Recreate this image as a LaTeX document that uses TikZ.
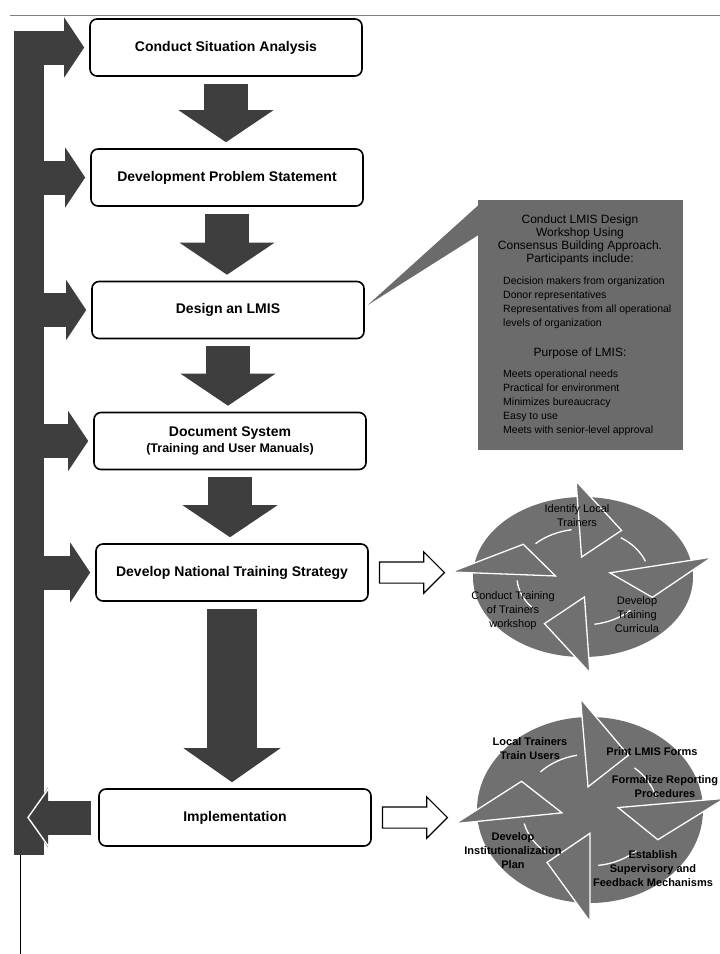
\documentclass[tikz,border=0pt]{standalone}
\usepackage{fontspec}
\setmainfont{Liberation Sans}
\usetikzlibrary{positioning, arrows.meta, shapes.arrows, calc}

\definecolor{arrowgray}{HTML}{3E3E3E}
\definecolor{boxgray}{HTML}{6B6B6B}
\definecolor{ringgray}{HTML}{707070}

% ring of four arrows, drawn in a unit circle; #1 = angles of the arrow heads
\newcommand{\cyclering}[1]{%
    \fill[ringgray] (0,0) circle[radius=1];
    \foreach \h in {#1} {
        \filldraw[ringgray, draw=white, line width=1.3pt]
            (\h:1.2) -- (\h-34:0.68) -- (\h:0.25) -- cycle;
        \draw[white, line width=1.3pt]
            (\h+43:0.6) arc[start angle=\h+43, end angle=\h+7, radius=0.6];
    }%
}

\begin{document}
\begin{tikzpicture}[
            x=1pt, y=-1pt,
            stepbox/.style={
                draw,
                line width=1.6pt,
                rounded corners=7pt,
                fill=white,
                minimum width=272pt,
                minimum height=57pt,
                align=center,
                font=\fontsize{14}{16}\selectfont\bfseries
            },
            downarrow/.style={
                arrowgray,
                line width=44pt,
                -{Triangle[length=32pt 0 0, width=95pt 0 0, line width=0pt 0 0]},
                shorten <=7pt,
                shorten >=6pt
            },
            feedarrow/.style={
                arrowgray,
                line width=34pt,
                -{Triangle[length=20pt 0 0, width=60pt 0 0, line width=0pt 0 0]}
            },
            outarrow/.style={
                single arrow,
                draw,
                line width=1.2pt,
                fill=white,
                minimum height=65pt,
                inner xsep=0pt,
                inner ysep=10pt,
                single arrow head extend=10pt
            },
            callout/.style={
                fill=boxgray,
                minimum width=205pt,
                minimum height=250pt,
                inner sep=0pt
            },
            headtext/.style={
                align=center,
                font=\fontsize{12}{13}\selectfont
            },
            listtext/.style={
                align=left,
                inner sep=0pt,
                font=\fontsize{10.5}{13.8}\selectfont
            },
            ringlabel/.style={
                align=center,
                inner sep=0pt,
                font=\fontsize{11}{14}\selectfont
            },
            boldlabel/.style={
                ringlabel,
                font=\fontsize{11}{14}\selectfont\bfseries
            }
        ]

            \useasboundingbox (0,0) rectangle (720,954);

            % page edges of the scan
            \draw[gray, line width=1pt] (10,15) -- (720,15);
            \draw[line width=1pt] (20,855) -- (20,954);

            % main steps
            \node[stepbox] (b1) at (226, 47.5) {Conduct Situation Analysis};
            \node[stepbox] (b2) at (227, 177.5) {Development Problem Statement};
            \node[stepbox] (b3) at (228, 310) {Design an LMIS};
            \node[stepbox] (b4) at (230, 441) {Document System\\
                {\fontsize{12.5}{15}\selectfont (Training and User Manuals)}};
            \node[stepbox] (b5) at (232, 572.5) {Develop National Training Strategy};
            \node[stepbox] (b6) at (235, 817.5) {Implementation};

            \draw[downarrow] (b1.south) -- (b1.south |- b2.north);
            \draw[downarrow] (b2.south) -- (b2.south |- b3.north);
            \draw[downarrow] (b3.south) -- (b3.south |- b4.north);
            \draw[downarrow] (b4.south) -- (b4.south |- b5.north);
            \draw[downarrow, line width=50pt,
                -{Triangle[length=34pt 0 0, width=97pt 0 0, line width=0pt 0 0]}]
                (b5.south) -- (b5.south |- b6.north);

            % feedback bar
            \coordinate (bartop) at (29, 31);
            \coordinate (barbot) at (29, 855);
            \draw[arrowgray, line width=30pt] (bartop) -- (barbot);

            \draw[feedarrow, shorten >=5pt] (bartop |- b1.west) -- (b1.west);
            \draw[feedarrow, shorten >=5pt] (bartop |- b2.west) -- (b2.west);
            \draw[feedarrow, shorten >=5pt] (bartop |- b3.west) -- (b3.west);
            \draw[feedarrow, shorten >=5pt] (bartop |- b4.west) -- (b4.west);
            \draw[feedarrow, shorten >=5pt] (bartop |- b5.west) -- (b5.west);

            \coordinate (backtip) at (28, 817.5);
            \draw[feedarrow, shorten <=7pt] (b6.west) -- (backtip);
            \draw[white, line width=1.4pt]
                ($(backtip)+(22,-31)$) -- (backtip) -- ($(backtip)+(22,31)$);

            % workshop callout
            \node[callout] (workshop) at (580.5, 325) {};
            \fill[boxgray] ($(workshop.north west)+(1,5)$) -- ($(b3.east)+(3,-5)$)
                -- ($(workshop.north west)+(1,35)$) -- cycle;

            \node[headtext] (wshead) at (580, 240)
                {Conduct LMIS Design\\Workshop Using\\Consensus Building Approach.\\Participants include:};
            \node[listtext, anchor=north west] (wslist) at (503, 277)
                {Decision makers from organization\\Donor representatives\\
                 Representatives from all operational\\levels of organization};
            \node[headtext] (purpose) at (580, 353) {Purpose of LMIS:};
            \node[listtext, anchor=north west] (purplist) at (503, 370)
                {Meets operational needs\\Practical for environment\\Minimizes bureaucracy\\
                 Easy to use\\Meets with senior-level approval};

            % training cycle
            \node[outarrow, right=10pt of b5] (toring1) {};
            \begin{scope}[shift={(583,577)}, xscale=110, yscale=-80]
                \cyclering{93,12,-87,-183}
            \end{scope}
            \node[ringlabel] (trainers) at (577, 516) {Identify Local\\Trainers};
            \node[ringlabel] (curric) at (637, 615) {Develop\\Training\\Curricula};
            \node[ringlabel] (tot) at (513, 611) {Conduct Training\\of Trainers\\workshop};

            % implementation cycle
            \node[outarrow, right=10pt of b6] (toring2) {};
            \begin{scope}[shift={(590,810)}, xscale=113, yscale=-93]
                \cyclering{94,6,-90,-173}
            \end{scope}
            \node[boldlabel] (users) at (530, 749) {Local Trainers\\Train Users};
            \node[boldlabel] (forms) at (652, 752) {Print LMIS Forms};
            \node[boldlabel] (report) at (665, 787) {Formalize Reporting\\Procedures};
            \node[boldlabel] (superv) at (653, 869) {Establish\\Supervisory and\\Feedback Mechanisms};
            \node[boldlabel] (instit) at (513, 851) {Develop\\Institutionalization\\Plan};

        \end{tikzpicture}
\end{document}
